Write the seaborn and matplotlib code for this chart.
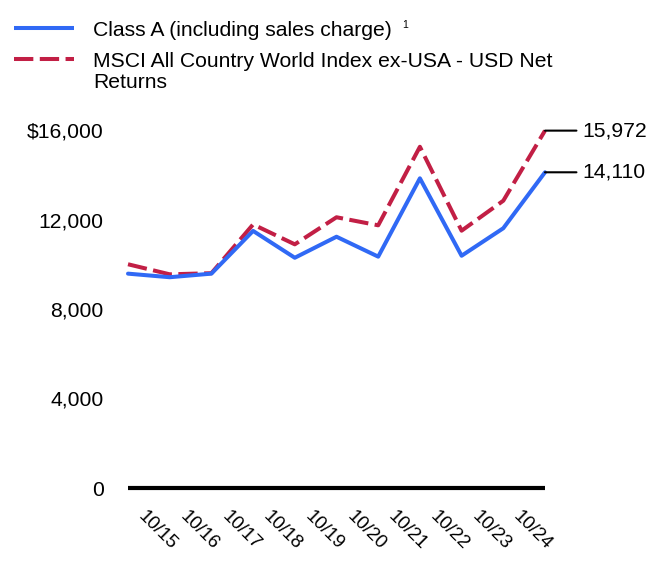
import numpy as np
import pandas as pd
import seaborn as sns
import matplotlib
matplotlib.use("Agg")
import matplotlib.pyplot as plt
from matplotlib.lines import Line2D
from matplotlib.transforms import ScaledTranslation

# ---- data ----
periods = ["10/14", "10/15", "10/16", "10/17", "10/18", "10/19", "10/20",
           "10/21", "10/22", "10/23", "10/24"]
tick_labels = ["10/15", "10/16", "10/17", "10/18", "10/19", "10/20",
               "10/21", "10/22", "10/23", "10/24"]
class_a = [9580, 9420, 9580, 11490, 10290, 11230, 10340, 13840, 10380, 11610, 14110]
msci = [10000, 9550, 9600, 11780, 10890, 12100, 11740, 15250, 11500, 12840, 15972]
y_ticks = [0, 4000, 8000, 12000, 16000]
y_tick_labels = ["0", "4,000", "8,000", "12,000", "$16,000"]
label_a = "Class A (including sales charge)"
label_m1 = "MSCI All Country World Index ex-USA - USD Net"
label_m2 = "Returns"
end_a = "14,110"
end_m = "15,972"

BLUE = "#3069F5"
RED = "#C21F45"
DASH = (4.8, 1.6)
FS = 15.2

sns.set_style("white")
plt.rcParams["font.family"] = ["Liberation Sans", "DejaVu Sans"]
plt.rcParams["text.color"] = "black"
plt.rcParams["xtick.color"] = "black"
plt.rcParams["ytick.color"] = "black"
plt.rcParams["xtick.labelcolor"] = "black"
plt.rcParams["ytick.labelcolor"] = "black"

W, H = 672, 588
fig = plt.figure(figsize=(W / 100, H / 100), dpi=100)
left, right, bottom, top = 128, 545, 488, 130
ax = fig.add_axes([left / W, 1 - bottom / H, (right - left) / W, (bottom - top) / H])

df = pd.DataFrame({"x": np.arange(len(periods)), "a": class_a, "m": msci})
sns.lineplot(data=df, x="x", y="m", ax=ax, color=RED, linewidth=2.9,
             clip_on=False)
ax.lines[-1].set_dashes(DASH)
sns.lineplot(data=df, x="x", y="a", ax=ax, color=BLUE, linewidth=2.9,
             clip_on=False)

ax.set_xlim(0, len(periods) - 1)
ax.set_ylim(0, 16000)
ax.set_xlabel("")
ax.set_ylabel("")
for s in ["top", "right", "left"]:
    ax.spines[s].set_visible(False)
ax.spines["bottom"].set_color("black")
ax.spines["bottom"].set_linewidth(3.0)
ax.spines["bottom"].set_capstyle("butt")

ax.set_yticks(y_ticks)
ax.set_yticklabels(y_tick_labels, fontsize=FS, color="black")
ax.tick_params(axis="y", length=0, pad=17.5)

ax.set_xticks(np.arange(len(tick_labels)))
ax.set_xticklabels(tick_labels, fontsize=13.5, rotation=-45, ha="left",
                   va="top", rotation_mode="anchor", color="black")
ax.tick_params(axis="x", length=0, pad=14.5)
off = ScaledTranslation(19 / 100, 0, fig.dpi_scale_trans)
for lab in ax.get_xticklabels():
    lab.set_transform(lab.get_transform() + off)

# end labels with leader lines
for val, txt in [(msci[-1], end_m), (class_a[-1], end_a)]:
    ax.annotate(txt, xy=(len(periods) - 1, val), xytext=(27, 0),
                textcoords="offset points", ha="left", va="center",
                fontsize=FS, color="black", annotation_clip=False,
                arrowprops=dict(arrowstyle="-", color="black", lw=1.5,
                                shrinkA=2, shrinkB=0))

# legend (manual)
fig.add_artist(Line2D([14 / W, 74 / W], [1 - 28 / H, 1 - 28 / H], color=BLUE,
                      linewidth=2.9, solid_capstyle="butt"))
fig.add_artist(Line2D([14 / W, 74 / W], [1 - 59 / H, 1 - 59 / H], color=RED,
                      linewidth=2.9, dashes=DASH, dash_capstyle="butt"))
fig.text(93 / W, 1 - 36 / H, label_a, fontsize=FS, va="baseline", ha="left")
fig.text(402 / W, 1 - 28 / H, "1", fontsize=7.5, va="baseline", ha="left")
fig.text(93 / W, 1 - 66.7 / H, label_m1, fontsize=FS, va="baseline", ha="left")
fig.text(93 / W, 1 - 88.3 / H, label_m2, fontsize=FS, va="baseline", ha="left")

fig.savefig("out.png", dpi=100)
